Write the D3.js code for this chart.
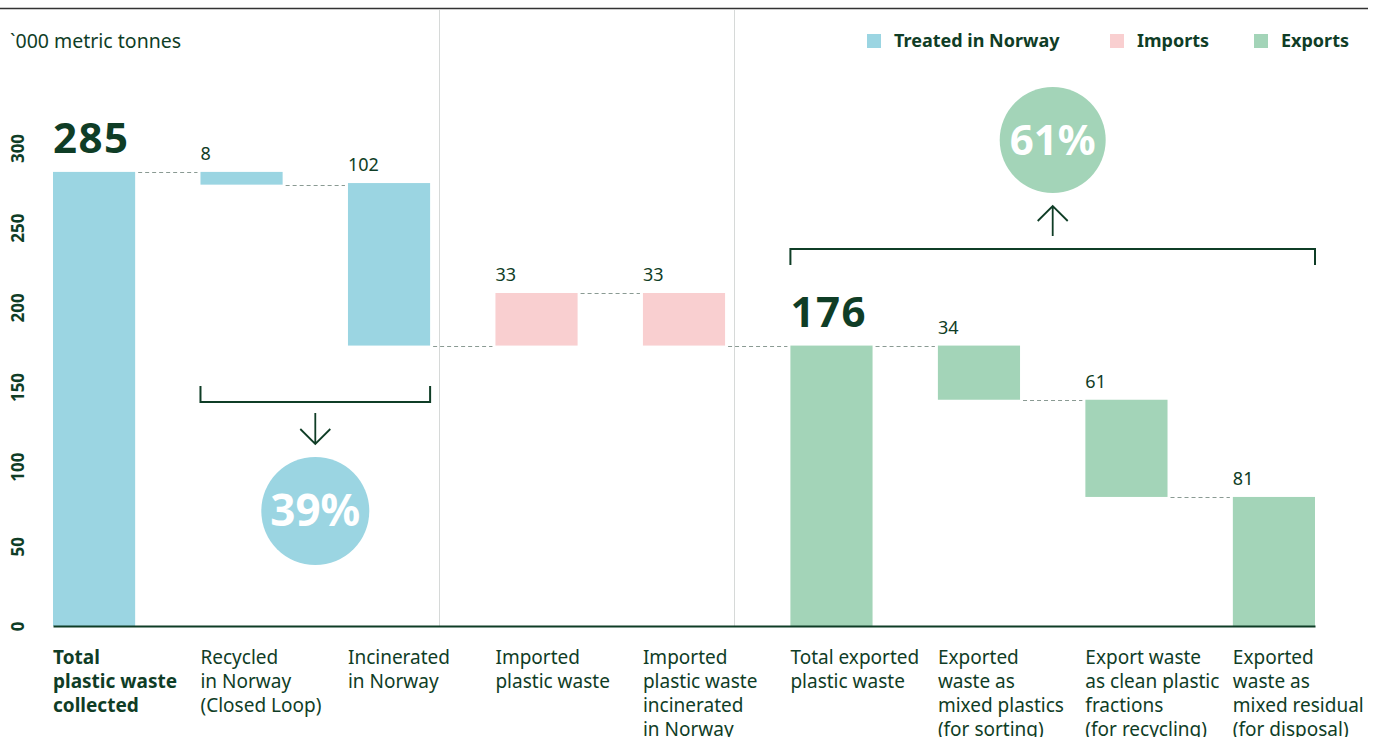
<!DOCTYPE html>
<html>
<head>
<meta charset="utf-8">
<script src="https://cdn.jsdelivr.net/npm/d3@7"></script>
<style>
  body { margin: 0; background: #fff; }
  svg { display: block; font-family: 'Noto Sans', sans-serif; }
  .label { fill: #0f3d26; }
</style>
</head>
<body>
<div id="chart"></div>
<script>
'use strict';

// Chart data
var categories = [
  ['Total', 'plastic waste', 'collected'],
  ['Recycled', 'in Norway', '(Closed Loop)'],
  ['Incinerated', 'in Norway'],
  ['Imported', 'plastic waste'],
  ['Imported', 'plastic waste', 'incinerated', 'in Norway'],
  ['Total exported', 'plastic waste'],
  ['Exported', 'waste as', 'mixed plastics', '(for sorting)'],
  ['Export waste', 'as clean plastic', 'fractions', '(for recycling)'],
  ['Exported', 'waste as', 'mixed residual', '(for disposal)']
];
var values = [285, 8, 102, 33, 33, 176, 34, 61, 81];
// level where each floating bar starts (waterfall base)
var bases = [0, 277, 176, 176, 176, 0, 142, 81, 0];
var groups = ['treated', 'treated', 'treated', 'imports', 'imports',
              'exports', 'exports', 'exports', 'exports'];
var legendLabels = ['Treated in Norway', 'Imports', 'Exports'];
var yTicks = [0, 50, 100, 150, 200, 250, 300];
var shareTreated = '39%';
var shareExported = '61%';

var colors = {treated: '#9bd5e2', imports: '#f9cfd0', exports: '#a3d4b8'};
var dark = '#0f3d26';

var width = 1378;
var height = 737;

var svg = d3.select('#chart')
  .append('svg')
    .attr('width', width)
    .attr('height', height);

// Scales
var x = d3.scaleBand()
  .domain(d3.range(categories.length))
  .range([53, 1315])
  .paddingInner(0.443)
  .paddingOuter(0);
var y = d3.scaleLinear().domain([0, 300]).range([626, 148]);
var bw = x.bandwidth();

// Top rule
svg.append('line')
  .attr('x1', 0).attr('x2', 1368)
  .attr('y1', 8.5).attr('y2', 8.5)
  .attr('stroke', '#333').attr('stroke-width', 1.5);

// Section dividers
[2, 4].forEach(function(i) {
  var xd = Math.round(x(i) + bw + 9) + 0.5;
  svg.append('line')
    .attr('x1', xd).attr('x2', xd)
    .attr('y1', 10).attr('y2', y(0))
    .attr('stroke', '#d6d9d8').attr('stroke-width', 1);
});

// Unit label
svg.append('text')
  .attr('class', 'label')
  .attr('x', 10).attr('y', 48)
  .style('font-size', '19.5px')
  .text('`000 metric tonnes');

// Legend
var legendX = [867, 1110, 1254];
legendLabels.forEach(function(l, i) {
  svg.append('rect')
    .attr('x', legendX[i]).attr('y', 34)
    .attr('width', 14).attr('height', 14)
    .attr('fill', colors[['treated', 'imports', 'exports'][i]]);
  svg.append('text')
    .attr('class', 'label')
    .attr('x', legendX[i] + 27).attr('y', 47)
    .style('font-size', '18px').style('font-weight', 'bold')
    .text(l);
});

// Y axis (rotated labels)
var yAxis = d3.axisLeft(y).tickValues(yTicks).tickSize(0);
var yg = svg.append('g')
  .attr('transform', 'translate(18,0)')
  .call(yAxis);
yg.select('.domain').remove();
yg.selectAll('text')
  .attr('x', 0).attr('dy', '0.36em')
  .attr('transform', 'rotate(-90)')
  .attr('text-anchor', 'middle')
  .attr('fill', dark)
  .style('font-family', "'Noto Sans', sans-serif")
  .style('font-size', '17px').style('font-weight', 'bold');

// Bars
var bars = values.map(function(v, i) {
  return {i: i, lo: bases[i], hi: bases[i] + v, v: v, g: groups[i]};
});
svg.selectAll('rect.bar')
  .data(bars)
.enter().append('rect')
  .attr('class', 'bar')
  .attr('x', function(d) { return x(d.i); })
  .attr('y', function(d) { return y(d.hi); })
  .attr('width', bw)
  .attr('height', function(d) { return y(d.lo) - y(d.hi); })
  .attr('fill', function(d) { return colors[d.g]; });

// Dashed connectors: level shared by neighbouring bars
function connectLevel(a, b, k) {
  if (k === 0 || (a.g === 'imports' && b.g === 'imports')) { return a.hi; }
  if (k === 1) { return a.lo; }
  var best = a.lo, diff = Infinity;
  [a.lo, a.hi].forEach(function(la) {
    [b.lo, b.hi].forEach(function(lb) {
      if (Math.abs(la - lb) < diff) { diff = Math.abs(la - lb); best = lb; }
    });
  });
  return best;
}
for (var k = 0; k < bars.length - 1; k++) {
  var a = bars[k], b = bars[k + 1];
  var yy = Math.round(y(connectLevel(a, b, k))) + 0.5;
  svg.append('line')
    .attr('x1', x(k) + bw + 3).attr('x2', x(k + 1) - 3)
    .attr('y1', yy).attr('y2', yy)
    .attr('stroke', '#8a9a93').attr('stroke-width', 1)
    .attr('stroke-dasharray', '4,3');
}

// Value labels
function isTotal(d) { return d.lo === 0 && d.i !== 8; }
svg.selectAll('text.value')
  .data(bars)
.enter().append('text')
  .attr('class', 'value label')
  .attr('x', function(d) { return x(d.i); })
  .attr('y', function(d) { return y(d.hi) - (isTotal(d) ? 19 : 12); })
  .style('font-size', function(d) { return isTotal(d) ? '42px' : '18px'; })
  .style('font-weight', function(d) { return isTotal(d) ? 'bold' : 'normal'; })
  .style('letter-spacing', function(d) { return isTotal(d) ? '1.5px' : '0px'; })
  .text(function(d) { return d.v; });

// Category labels
var catText = svg.selectAll('text.cat')
  .data(categories)
.enter().append('text')
  .attr('class', 'cat label')
  .attr('y', 664)
  .style('font-size', '19px')
  .style('font-weight', function(d, i) { return i === 0 ? 'bold' : 'normal'; });
catText.selectAll('tspan')
  .data(function(d, i) { return d.map(function(t) { return {t: t, i: i}; }); })
.enter().append('tspan')
  .attr('x', function(d) { return x(d.i); })
  .attr('dy', function(d, j) { return j === 0 ? 0 : 24; })
  .text(function(d) { return d.t; });

// X axis line
var xAxis = d3.axisBottom(x).tickSize(0).tickFormat('');
svg.append('g')
  .attr('transform', 'translate(0,' + y(0) + ')')
  .call(xAxis)
  .select('.domain')
    .attr('stroke', dark).attr('stroke-width', 2);

// Bracket + arrow + circle: treated in Norway
var bx1 = x(1), bx2 = x(2) + bw;
var by = 402;
svg.append('path')
  .attr('d', 'M' + bx1 + ',386V' + by + 'H' + bx2 + 'V386')
  .attr('fill', 'none').attr('stroke', dark).attr('stroke-width', 2);
var ax = (bx1 + bx2) / 2;
svg.append('path')
  .attr('d', 'M' + ax + ',413V444M' + (ax - 15) + ',429L' + ax + ',444L' + (ax + 15) + ',429')
  .attr('fill', 'none').attr('stroke', dark).attr('stroke-width', 1.8);
svg.append('circle')
  .attr('cx', ax).attr('cy', 511).attr('r', 54)
  .attr('fill', colors.treated);
svg.append('text')
  .attr('x', ax).attr('y', 526)
  .attr('text-anchor', 'middle')
  .attr('fill', '#fff')
  .style('font-size', '44px').style('font-weight', 'bold')
  .text(shareTreated);

// Bracket + arrow + circle: exports
var ex1 = x(5), ex2 = x(8) + bw;
var ey = 249;
svg.append('path')
  .attr('d', 'M' + ex1 + ',265V' + ey + 'H' + ex2 + 'V265')
  .attr('fill', 'none').attr('stroke', dark).attr('stroke-width', 2);
var ex = (ex1 + ex2) / 2;
svg.append('path')
  .attr('d', 'M' + ex + ',236V206M' + (ex - 15) + ',221L' + ex + ',206L' + (ex + 15) + ',221')
  .attr('fill', 'none').attr('stroke', dark).attr('stroke-width', 1.8);
svg.append('circle')
  .attr('cx', ex).attr('cy', 140).attr('r', 53)
  .attr('fill', colors.exports);
svg.append('text')
  .attr('x', ex).attr('y', 155)
  .attr('text-anchor', 'middle')
  .attr('fill', '#fff')
  .style('font-size', '42px').style('font-weight', 'bold')
  .text(shareExported);
</script>
</body>
</html>
